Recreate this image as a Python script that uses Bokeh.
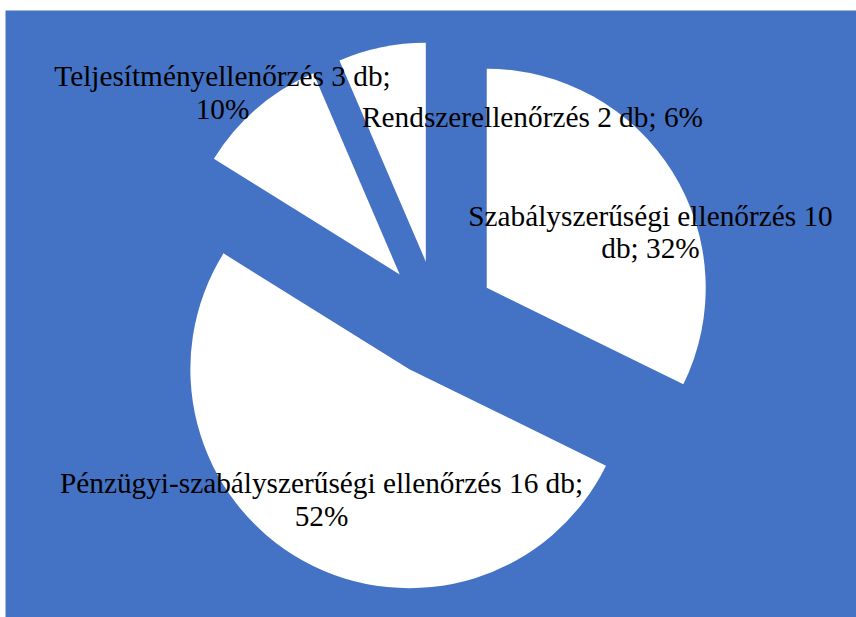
import math
from bokeh.plotting import figure
from bokeh.models import Range1d, ColumnDataSource
from bokeh.core.properties import value
from bokeh.embed import file_html
from bokeh.resources import INLINE

# ---- data ----
categories = ["Szabályszerűségi ellenőrzés", "Pénzügyi-szabályszerűségi ellenőrzés",
              "Teljesítményellenőrzés", "Rendszerellenőrzés"]
counts = [10, 16, 3, 2]
unit = "db"

# ---- layout (page px, y measured downward) ----
PW, PH = 856, 617
LEFT, TOP = 5, 10
BG = "#4472C4"
centre = (437, 318)
radius = 219
explode = 58
label_x = [650, 321, 222, 532]
label_baselines = [[215, 247], [482, 515], [75, 108], [116]]
# word index after which each label wraps (None = single line)
label_wrap = [3, 4, 3, None]

total = sum(counts)
pcts = [round(c / total * 100) for c in counts]

cx, cy = centre[0], PH - centre[1]
xs, ys, sa, ea = [], [], [], []
acc = 0.0
for c in counts:
    a0 = acc / total * 360
    acc += c
    a1 = acc / total * 360
    mid = math.radians((a0 + a1) / 2)
    xs.append(cx + explode * math.sin(mid))
    ys.append(cy + explode * math.cos(mid))
    sa.append(math.radians(90 - a0))
    ea.append(math.radians(90 - a1))

tx, ty, tt = [], [], []
for cat, c, pc, lx, bl, wrap in zip(categories, counts, pcts, label_x,
                                   label_baselines, label_wrap):
    words = f"{cat} {c} {unit}; {pc}%".split(" ")
    lines = [" ".join(words)] if wrap is None else [" ".join(words[:wrap]), " ".join(words[wrap:])]
    for line, b in zip(lines, bl):
        tx.append(lx)
        ty.append(PH - b)
        tt.append(line)

p = figure(width=PW, height=PH, output_backend="svg", toolbar_location=None,
           x_range=Range1d(LEFT, PW), y_range=Range1d(0, PH - TOP),
           min_border=0, min_border_left=LEFT, min_border_top=TOP)
p.axis.visible = False
p.grid.visible = False
p.outline_line_color = None
p.background_fill_color = BG
p.border_fill_color = "white"

src = ColumnDataSource(dict(x=xs, y=ys, sa=sa, ea=ea))
p.wedge(x="x", y="y", radius=radius, start_angle="sa", end_angle="ea",
        direction="clock", fill_color="white", line_color=None, source=src)

tsrc = ColumnDataSource(dict(x=tx, y=ty, t=tt))
p.text(x="x", y="y", text="t", source=tsrc, text_font=value("Liberation Serif"),
       text_font_size="29.3px", text_color="black", text_align="center",
       text_baseline="alphabetic")

open("out.html", "w").write(file_html(p, INLINE))
